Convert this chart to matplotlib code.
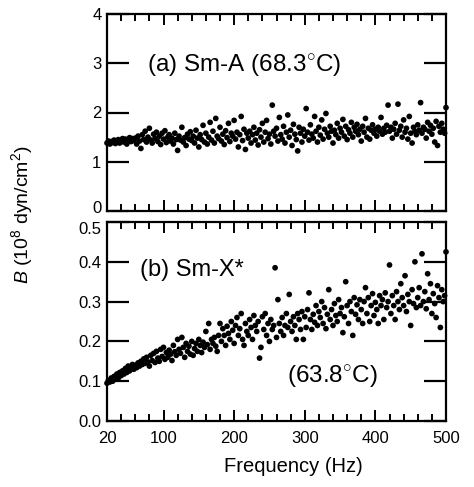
import matplotlib
matplotlib.use("Agg")
import matplotlib.pyplot as plt
import matplotlib.transforms as mtransforms
from matplotlib.ticker import FixedLocator

plt.rcParams['font.family'] = ['Liberation Sans', 'DejaVu Sans']
plt.rcParams['mathtext.fontset'] = 'custom'
plt.rcParams['mathtext.rm'] = 'Liberation Sans'
plt.rcParams['mathtext.it'] = 'Liberation Sans:italic'

freq = [
    20, 22, 24, 26, 28, 30, 32, 34, 36, 38, 40, 42, 44, 46, 48, 50, 52, 54, 56, 58,
    60, 62, 64, 66, 68, 70, 72, 74, 76, 78, 80, 82, 84, 86, 88, 90, 92, 94, 96, 98,
    100, 102, 104, 106, 108, 110, 112, 114, 116, 118, 120, 122, 124, 126, 128, 130, 132, 134, 136, 138,
    140, 142, 144, 146, 148, 150, 152, 154, 156, 158, 160, 162, 164, 166, 168, 170, 172, 174, 176, 178,
    180, 182, 184, 186, 188, 190, 192, 194, 196, 198, 200, 202, 204, 206, 208, 210, 212, 214, 216, 218,
    220, 222, 224, 226, 228, 230, 232, 234, 236, 238, 240, 242, 244, 246, 248, 250, 252, 254, 256, 258,
    260, 262, 264, 266, 268, 270, 272, 274, 276, 278, 280, 282, 284, 286, 288, 290, 292, 294, 296, 298,
    300, 302, 304, 306, 308, 310, 312, 314, 316, 318, 320, 322, 324, 326, 328, 330, 332, 334, 336, 338,
    340, 342, 344, 346, 348, 350, 352, 354, 356, 358, 360, 362, 364, 366, 368, 370, 372, 374, 376, 378,
    380, 382, 384, 386, 388, 390, 392, 394, 396, 398, 400, 402, 404, 406, 408, 410, 412, 414, 416, 418,
    420, 422, 424, 426, 428, 430, 432, 434, 436, 438, 440, 442, 444, 446, 448, 450, 452, 454, 456, 458,
    460, 462, 464, 466, 468, 470, 472, 474, 476, 478, 480, 482, 484, 486, 488, 490, 492, 494, 496, 498,
    500,
]

B_smA = [
    1.38, 1.42, 1.36, 1.41, 1.39, 1.44, 1.37, 1.40, 1.45, 1.38, 1.43, 1.47, 1.40, 1.46, 1.36, 1.44, 1.49, 1.41, 1.47, 1.43,
    1.48, 1.36, 1.52, 1.42, 1.27, 1.55, 1.45, 1.62, 1.40, 1.50, 1.68, 1.44, 1.38, 1.56, 1.47, 1.60, 1.41, 1.52, 1.35, 1.58,
    1.46, 1.63, 1.39, 1.50, 1.55, 1.42, 1.48, 1.36, 1.58, 1.45, 1.23, 1.52, 1.44, 1.70, 1.40, 1.49, 1.33, 1.56, 1.46, 1.61,
    1.43, 1.52, 1.38, 1.64, 1.48, 1.30, 1.55, 1.45, 1.74, 1.40, 1.58, 1.36, 1.50, 1.80, 1.44, 1.62, 1.38, 1.88, 1.52, 1.47,
    1.70, 1.42, 1.56, 1.35, 1.63, 1.49, 1.78, 1.41, 1.58, 1.52, 1.84, 1.46, 1.60, 1.30, 1.55, 1.92, 1.43, 1.66, 1.25, 1.58,
    1.48, 1.62, 1.38, 1.55, 1.70, 1.44, 1.58, 1.34, 1.65, 1.50, 1.78, 1.40, 1.60, 1.84, 1.47, 1.56, 1.36, 2.15, 1.62, 1.52,
    1.68, 1.42, 1.90, 1.55, 1.46, 1.72, 1.38, 1.60, 1.95, 1.50, 1.64, 1.33, 1.76, 1.56, 1.45, 1.22, 1.70, 1.58, 1.40, 1.66,
    1.52, 2.08, 1.60, 1.44, 1.75, 1.56, 1.48, 1.92, 1.62, 1.40, 1.70, 1.54, 1.85, 1.46, 1.66, 1.98, 1.58, 1.50, 1.72, 1.62,
    1.38, 1.64, 1.55, 1.78, 1.48, 1.68, 1.60, 1.86, 1.52, 1.72, 1.45, 1.65, 1.58, 1.80, 1.50, 1.70, 1.62, 1.76, 1.55, 1.66,
    1.42, 1.72, 1.60, 1.88, 1.50, 1.68, 1.46, 1.64, 1.75, 1.58, 1.66, 1.52, 1.70, 1.62, 1.90, 1.56, 1.68, 1.60, 1.74, 2.15,
    1.62, 1.70, 1.48, 1.66, 1.78, 1.56, 2.17, 1.64, 1.72, 1.50, 1.85, 1.60, 1.68, 1.46, 1.92, 1.58, 1.38, 1.70, 1.62, 1.55,
    1.75, 1.64, 2.20, 1.58, 1.70, 1.66, 1.48, 1.80, 1.62, 1.74, 1.56, 1.68, 1.40, 1.82, 1.33, 1.72, 1.60, 1.78, 1.66, 1.58,
    2.10,
]

B_smX = [
    0.095, 0.102, 0.098, 0.108, 0.100, 0.112, 0.105, 0.118, 0.108, 0.122, 0.114, 0.126, 0.118, 0.132, 0.122, 0.138, 0.126, 0.135, 0.142, 0.130,
    0.140, 0.134, 0.146, 0.138, 0.150, 0.142, 0.156, 0.145, 0.160, 0.148, 0.138, 0.165, 0.152, 0.170, 0.147, 0.175, 0.158, 0.150, 0.180, 0.162,
    0.185, 0.155, 0.172, 0.160, 0.178, 0.168, 0.152, 0.190, 0.174, 0.165, 0.205, 0.180, 0.170, 0.210, 0.185, 0.160, 0.195, 0.175, 0.188, 0.168,
    0.200, 0.165, 0.182, 0.195, 0.175, 0.205, 0.190, 0.172, 0.198, 0.185, 0.225, 0.192, 0.245, 0.180, 0.205, 0.195, 0.210, 0.188, 0.175, 0.215,
    0.245, 0.200, 0.232, 0.215, 0.190, 0.238, 0.220, 0.205, 0.250, 0.228, 0.195, 0.240, 0.260, 0.215, 0.232, 0.270, 0.205, 0.190, 0.245, 0.225,
    0.215, 0.255, 0.235, 0.205, 0.265, 0.240, 0.225, 0.250, 0.158, 0.185, 0.262, 0.230, 0.270, 0.215, 0.245, 0.200, 0.255, 0.230, 0.240, 0.385,
    0.210, 0.305, 0.245, 0.225, 0.260, 0.215, 0.240, 0.270, 0.235, 0.318, 0.250, 0.225, 0.262, 0.240, 0.205, 0.270, 0.255, 0.230, 0.275, 0.205,
    0.262, 0.235, 0.280, 0.322, 0.255, 0.230, 0.268, 0.248, 0.290, 0.240, 0.275, 0.260, 0.300, 0.245, 0.285, 0.232, 0.268, 0.330, 0.255, 0.280,
    0.240, 0.295, 0.265, 0.250, 0.305, 0.270, 0.285, 0.222, 0.262, 0.350, 0.290, 0.245, 0.300, 0.275, 0.215, 0.310, 0.268, 0.292, 0.255, 0.305,
    0.280, 0.245, 0.300, 0.335, 0.270, 0.310, 0.250, 0.290, 0.320, 0.265, 0.298, 0.280, 0.245, 0.315, 0.290, 0.305, 0.255, 0.322, 0.285, 0.300,
    0.392, 0.270, 0.315, 0.290, 0.255, 0.325, 0.300, 0.280, 0.345, 0.310, 0.290, 0.365, 0.275, 0.318, 0.300, 0.240, 0.330, 0.295, 0.400, 0.285,
    0.310, 0.335, 0.290, 0.420, 0.300, 0.325, 0.282, 0.370, 0.305, 0.345, 0.270, 0.320, 0.295, 0.260, 0.340, 0.310, 0.235, 0.330, 0.300, 0.315,
    0.425,
]

x_ticks = [20, 100, 200, 300, 400, 500]
x_tick_labels = ["20", "100", "200", "300", "400", "500"]
top_yticks = [0, 1, 2, 3, 4]
top_ytick_labels = ["0", "1", "2", "3", "4"]
bot_yticks = [0.0, 0.1, 0.2, 0.3, 0.4, 0.5]
bot_ytick_labels = ["0.0", "0.1", "0.2", "0.3", "0.4", "0.5"]

fig = plt.figure(figsize=(4.74, 4.87), dpi=100)
W, H = 474, 487
def rect(l, t, r, b):
    return [l / W, 1 - b / H, (r - l) / W, (b - t) / H]

ax1 = fig.add_axes(rect(107, 14, 446, 211))
ax2 = fig.add_axes(rect(107, 222, 446, 421))

for ax, y, yt, ytl, ylim in [
    (ax1, B_smA, top_yticks, top_ytick_labels, (0, 4)),
    (ax2, B_smX, bot_yticks, bot_ytick_labels, (0, 0.5)),
]:
    ax.scatter(freq, y, s=17, color='black', edgecolors='none', zorder=3, clip_on=False)
    ax.set_xlim(20, 500)
    ax.set_ylim(*ylim)
    ax.set_yticks(yt)
    ax.set_yticklabels(ytl, fontsize=12)
    ax.set_xticks(x_ticks)
    ax.xaxis.set_minor_locator(FixedLocator(list(range(40, 500, 20))))
    for s in ax.spines.values():
        s.set_linewidth(1.6)
    ax.tick_params(axis='x', which='major', direction='in', length=8, width=1.4,
                   top=True, bottom=True, pad=7)
    ax.tick_params(axis='x', which='minor', direction='in', length=5, width=1.4,
                   top=True, bottom=True)
    ax.tick_params(axis='y', which='major', direction='in', length=16, width=1.6,
                   left=True, right=True, pad=4)
    ax.tick_params(axis='y', which='minor', left=False, right=False)

ax1.set_xticklabels([])
ax2.set_xticklabels(x_tick_labels, fontsize=12)

# nudge the crowded labels at the junction of the two panels
up = mtransforms.ScaledTranslation(0, 4 / 100, fig.dpi_scale_trans)
down = mtransforms.ScaledTranslation(0, -6 / 100, fig.dpi_scale_trans)
lab0 = ax1.yaxis.get_major_ticks()[0].label1
lab0.set_transform(lab0.get_transform() + up)
lab5 = ax2.yaxis.get_major_ticks()[-1].label1
lab5.set_transform(lab5.get_transform() + down)

ax1.text(0.118, 0.74, "(a) Sm-A (68.3$^{\\circ}$C)", transform=ax1.transAxes,
         fontsize=17.5, ha='left', va='center')
ax2.text(0.097, 0.76, "(b) Sm-X*", transform=ax2.transAxes,
         fontsize=17, ha='left', va='center')
ax2.text(0.53, 0.225, "(63.8$^{\\circ}$C)", transform=ax2.transAxes,
         fontsize=17.5, ha='left', va='center')

fig.text(293 / W, 1 - 467 / H, "Frequency (Hz)", fontsize=14.5, ha='center', va='center')
fig.text(22 / W, 1 - 215 / H, "$B$ (10$^8$ dyn/cm$^2$)", fontsize=14,
         rotation=90, ha='center', va='center')

fig.savefig("out.png", dpi=100)
